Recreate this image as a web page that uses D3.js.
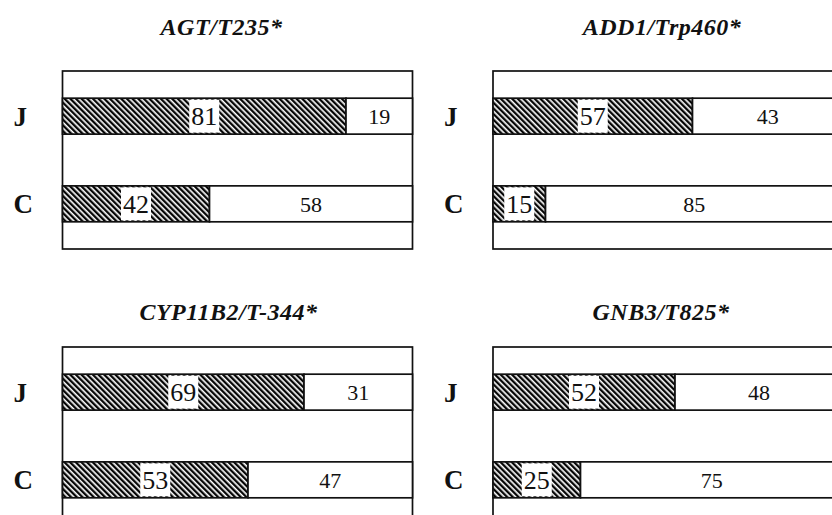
<!DOCTYPE html>
<html>
<head>
<meta charset="utf-8">
<script src="https://cdn.jsdelivr.net/npm/d3@7"></script>
<style>
body { margin: 0; background: #fff; }
svg { display: block; }
.panel-title { font-family: "Liberation Serif", "Times New Roman", serif; font-style: italic; font-weight: bold; font-size: 24px; letter-spacing: 0.5px; fill: #111; }
.group-label { font-family: "Liberation Serif", "Times New Roman", serif; font-weight: bold; font-size: 27px; fill: #111; }
.val { font-family: "Liberation Serif", "Times New Roman", serif; fill: #111; }
</style>
</head>
<body>
<div id="chart"></div>
<script>
// data (percent of allele carriers)
var genes = ["AGT/T235*", "ADD1/Trp460*", "CYP11B2/T-344*", "GNB3/T825*"];
var groups = ["J", "C"];
var hatchJ = [81, 57, 69, 52];
var restJ  = [19, 43, 31, 48];
var hatchC = [42, 15, 53, 25];
var restC  = [58, 85, 47, 75];

// layout of the 2x2 grid
var W = 832, H = 515;
var colX = [62.5, 493];
var rowY = [71, 347];
var titleY = [35, 320];
var titleShift = [-16, -6, -9, -7];
var boxW = 350, boxH = 178;

var svg = d3.select("#chart").append("svg")
    .attr("width", W)
    .attr("height", H)
    .style("overflow", "hidden");

// diagonal hatching
var pat = svg.append("defs").append("pattern")
    .attr("id", "hatch")
    .attr("patternUnits", "userSpaceOnUse")
    .attr("width", 4)
    .attr("height", 4)
    .attr("patternTransform", "rotate(-45)");
pat.append("rect").attr("width", 4).attr("height", 4).attr("fill", "#fff");
pat.append("line")
    .attr("x1", 1.2).attr("y1", -1).attr("x2", 1.2).attr("y2", 5)
    .attr("stroke", "#000").attr("stroke-width", 2.3);

var x = d3.scaleLinear().domain([0, 100]).range([0, boxW]);
var y = d3.scaleBand().domain(groups).range([0, boxH])
    .paddingInner(0.59).paddingOuter(0.31);

genes.forEach(function(gene, i){
    var col = i % 2, row = Math.floor(i / 2);
    var g = svg.append("g")
        .attr("transform", "translate(" + colX[col] + "," + rowY[row] + ")");

    var rows = [
        {grp: "J", a: hatchJ[i], b: restJ[i]},
        {grp: "C", a: hatchC[i], b: restC[i]}
    ];

    // outer frame
    g.append("rect")
        .attr("width", boxW).attr("height", boxH)
        .attr("fill", "#fff")
        .attr("stroke", "#111").attr("stroke-width", 1.7);

    svg.append("text")
        .attr("class", "panel-title")
        .attr("x", colX[col] + boxW / 2 + titleShift[i])
        .attr("y", titleY[row])
        .attr("text-anchor", "middle")
        .text(gene);

    var bars = g.selectAll("g.bar").data(rows).enter().append("g")
        .attr("class", "bar")
        .attr("transform", function(d){ return "translate(0," + y(d.grp) + ")"; });

    // hatched segment
    bars.append("rect")
        .attr("x", 0).attr("width", function(d){ return x(d.a); })
        .attr("height", y.bandwidth())
        .attr("fill", "url(#hatch)")
        .attr("stroke", "#111").attr("stroke-width", 1.7);

    // plain segment
    bars.append("rect")
        .attr("x", function(d){ return x(d.a); })
        .attr("width", function(d){ return x(d.a + d.b) - x(d.a); })
        .attr("height", y.bandwidth())
        .attr("fill", "#fff")
        .attr("stroke", "#111").attr("stroke-width", 1.7);

    // label in hatched part sits on a white patch
    var lbl = bars.append("text")
        .attr("class", "val")
        .attr("x", function(d){ return x(d.a) / 2; })
        .attr("y", y.bandwidth() / 2)
        .attr("dy", "0.35em")
        .attr("text-anchor", "middle")
        .style("font-size", "26px")
        .text(function(d){ return d.a; });
    lbl.each(function(){
        var bb = this.getBBox();
        d3.select(this.parentNode).insert("rect", "text")
            .attr("x", bb.x - 2).attr("y", 1.5)
            .attr("width", bb.width + 4).attr("height", y.bandwidth() - 3)
            .attr("fill", "#fff");
    });

    bars.append("text")
        .attr("class", "val")
        .attr("x", function(d){ return (x(d.a) + x(d.a + d.b)) / 2; })
        .attr("y", y.bandwidth() / 2)
        .attr("dy", "0.35em")
        .attr("text-anchor", "middle")
        .style("font-size", "22px")
        .text(function(d){ return d.b; });

    // group labels left of the frame
    g.selectAll("text.group-label").data(groups).enter().append("text")
        .attr("class", "group-label")
        .attr("x", -49)
        .attr("y", function(d){ return y(d) + y.bandwidth() / 2; })
        .attr("dy", "0.35em")
        .text(function(d){ return d; });
});
</script>
</body>
</html>
